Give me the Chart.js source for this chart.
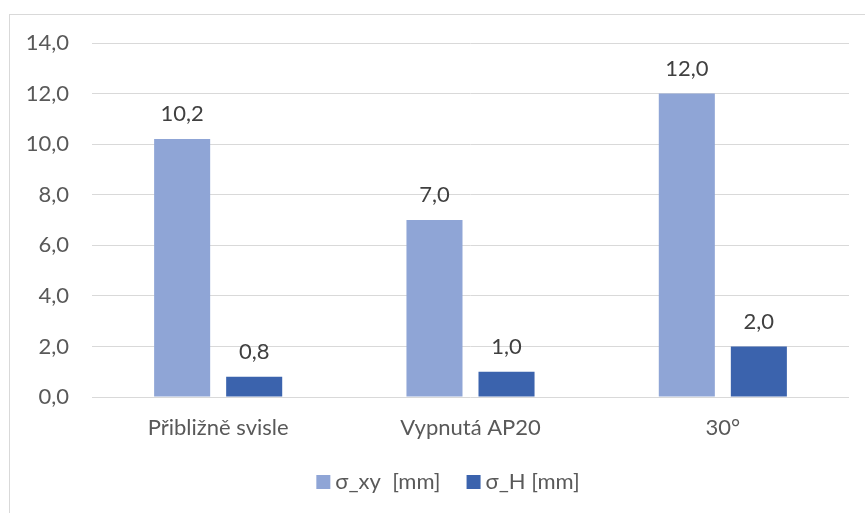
<!DOCTYPE html>
<html>
<head>
<meta charset="utf-8">
<script src="https://cdn.jsdelivr.net/npm/chart.js@4.4.1/dist/chart.umd.min.js"></script>
<style>
  html, body { margin: 0; padding: 0; background: #ffffff; }
  #wrap { width: 865px; height: 513px; }
</style>
</head>
<body>
<div id="wrap"><canvas id="chart" width="865" height="513"></canvas></div>
<script>
const categories = ['Přibližně svisle', 'Vypnutá AP20', '30°'];
const sigmaXY = [10.2, 7.0, 12.0];
const sigmaH = [0.8, 1.0, 2.0];
const seriesNames = ['σ_xy  [mm]', 'σ_H [mm]'];
const yTicks = [0, 2, 4, 6, 8, 10, 12, 14];

const FONT = 'Lato';
const FONT_SIZE = 22;
const fmt = v => v.toFixed(1).replace('.', ',');

// Outer frame of the chart
const framePlugin = {
  id: 'frame',
  beforeDraw(chart) {
    const ctx = chart.ctx;
    ctx.save();
    ctx.fillStyle = '#ffffff';
    ctx.fillRect(0, 0, chart.width, chart.height);
    ctx.strokeStyle = '#d9d9d9';
    ctx.lineWidth = 1;
    ctx.strokeRect(9.5, 14.5, chart.width + 20, chart.height + 20);
    ctx.restore();
  }
};

// Value labels above each bar
const valueLabels = {
  id: 'valueLabels',
  afterDatasetsDraw(chart) {
    const ctx = chart.ctx;
    ctx.save();
    ctx.font = FONT_SIZE + 'px ' + FONT;
    ctx.fillStyle = '#404040';
    ctx.textAlign = 'center';
    ctx.textBaseline = 'middle';
    chart.data.datasets.forEach((ds, i) => {
      chart.getDatasetMeta(i).data.forEach((bar, j) => {
        ctx.fillText(fmt(ds.data[j]), bar.x, bar.y - 25);
      });
    });
    ctx.restore();
  }
};

// Legend row under the axis
const legendRow = {
  id: 'legendRow',
  afterDraw(chart) {
    const ctx = chart.ctx;
    ctx.save();
    ctx.font = FONT_SIZE + 'px ' + FONT;
    ctx.textBaseline = 'middle';
    const box = 14, gapText = 5, gapItem = 26, cy = 482;
    const items = chart.data.datasets.map(ds => ({ text: ds.label, color: ds.backgroundColor }));
    let total = 0;
    items.forEach((it, k) => {
      it.w = ctx.measureText(it.text).width;
      total += box + gapText + it.w + (k < items.length - 1 ? gapItem : 0);
    });
    let x = 448 - total / 2;
    items.forEach(it => {
      ctx.fillStyle = it.color;
      ctx.fillRect(x, cy - box / 2, box, box);
      x += box + gapText;
      ctx.fillStyle = '#595959';
      ctx.textAlign = 'left';
      ctx.fillText(it.text, x, cy);
      x += it.w + gapItem;
    });
    ctx.restore();
  }
};

new Chart(document.getElementById('chart'), {
  type: 'bar',
  data: {
    labels: categories,
    datasets: [
      { label: seriesNames[0], data: sigmaXY, backgroundColor: '#8fa5d6', categoryPercentage: 0.571, barPercentage: 0.778 },
      { label: seriesNames[1], data: sigmaH, backgroundColor: '#3b63ad', categoryPercentage: 0.571, barPercentage: 0.778 }
    ]
  },
  options: {
    responsive: false,
    animation: false,
    devicePixelRatio: 1,
    layout: { padding: { left: 0, top: 43, right: 16, bottom: 0 } },
    plugins: { legend: { display: false }, tooltip: { enabled: false } },
    scales: {
      x: {
        grid: { display: false, drawTicks: false },
        border: { display: false },
        ticks: { color: '#595959', font: { family: FONT, size: FONT_SIZE }, padding: 18, maxRotation: 0 },
        afterFit(scale) { scale.height = 116; }
      },
      y: {
        min: 0, max: 14,
        afterBuildTicks(scale) { scale.ticks = yTicks.map(v => ({ value: v })); },
        grid: { color: '#d9d9d9', lineWidth: 1, drawTicks: false },
        border: { display: false },
        ticks: { color: '#595959', font: { family: FONT, size: FONT_SIZE }, padding: 23, callback: v => fmt(v) },
        afterFit(scale) { scale.width = 92; }
      }
    }
  },
  plugins: [framePlugin, valueLabels, legendRow]
});
</script>
</body>
</html>
